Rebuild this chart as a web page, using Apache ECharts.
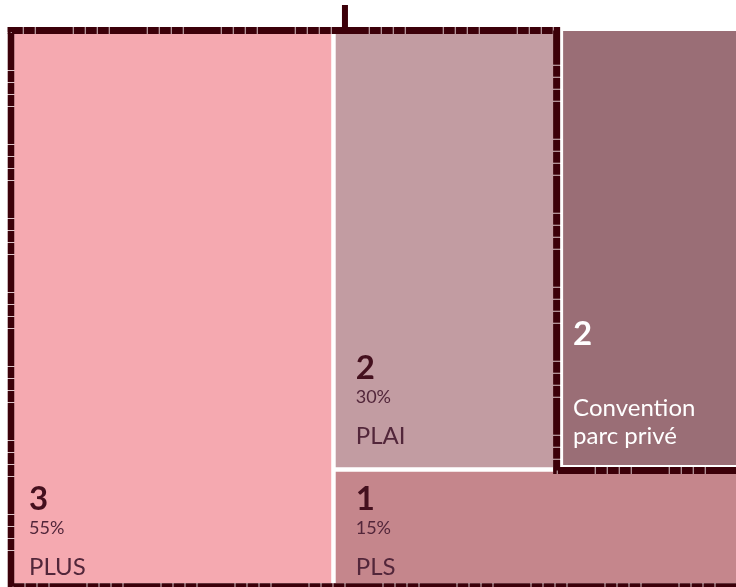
<!DOCTYPE html>
<html><head><meta charset="utf-8">
<script src="https://cdn.jsdelivr.net/npm/echarts@6/dist/echarts.min.js"></script>
<style>html,body{margin:0;padding:0;background:#fff}#c{width:736px;height:587px}</style>
</head><body><div id="c"></div>
<script>
// ---- data ----
const categories = ['PLUS', 'PLAI', 'PLS'];
const counts = [3, 2, 1];
const shares = [55, 30, 15];
const privateLines = ['Convention', 'parc privé'];
const privateCount = 2;

// ---- layout / style constants ----
const socialArea = 1.058;      // area of the social block (height = 1)
const lowBand = 0.2067;        // height of the bottom band (PLS)
const cellColors = ['#f5a9b0', '#c29ca2', '#c5868c'];
const privateColor = '#9a6e76';
const borderColor = '#3c0009';
const tickColor = '#d8c2c6';
const darkText = '#44101e';
const labelText = '#52263a';
const FONT = 'Lato, "Open Sans", sans-serif';
const padX = [15, 20, 20, 11];
const padB = [8, 23, 8, 22];

function layout() {
  const wPlus = shares[0] * socialArea / 100;
  const wPlai = shares[1] * socialArea / 100 / (1 - lowBand);
  const wPls = shares[2] * socialArea / 100 / lowBand;
  const total = counts.reduce((a, b) => a + b, 0);
  const wPriv = socialArea * privateCount / total / (1 - lowBand);
  return [
    {x0: 0, x1: wPlus, y0: 0, y1: 1},
    {x0: wPlus, x1: wPlus + wPlai, y0: lowBand, y1: 1},
    {x0: wPlus, x1: wPlus + wPls, y0: 0, y1: lowBand},
    {x0: wPlus + wPlai, x1: wPlus + wPlai + wPriv, y0: lowBand, y1: 1}
  ];
}
const rects = layout();
const G = 2.25;

function textEl(str, x, baseline, size, weight, color) {
  return {
    type: 'text',
    style: {
      text: String(str), x: x, y: baseline + 0.17 * size,
      fill: color, fontSize: size, fontWeight: weight, fontFamily: FONT,
      align: 'left', verticalAlign: 'bottom'
    },
    z2: 10
  };
}

function renderCell(params, api) {
  const i = api.value(0);
  const r = rects[i];
  const tl = api.coord([r.x0, r.y1]);
  const br = api.coord([r.x1, r.y0]);
  let x = tl[0], y = tl[1], x2 = br[0], y2 = br[1];
  const children = [];
  if (i < 3) {
    if (i === 0) x2 -= G;
    if (i === 1) { x += G; y2 -= G; }
    if (i === 2) { x += G; y += G; }
    children.push({type: 'rect', shape: {x: x, y: y, width: x2 - x, height: y2 - y},
      style: {fill: cellColors[i]}});
    const lb = y2 - padB[i];
    const tx = x + padX[i];
    children.push(textEl(counts[i], tx, lb - 65, 33, 'bold', darkText));
    children.push(textEl(shares[i] + '%', tx, lb - 41, 18, 'normal', labelText));
    children.push(textEl(categories[i], tx, lb, 24, 'normal', labelText));
  } else {
    x = x + 9; y = y - 4; y2 = y2 - 3.5;
    children.push({type: 'rect', shape: {x: x, y: y, width: x2 - x, height: y2 - y},
      style: {fill: privateColor, stroke: '#ffffff', lineWidth: 2}});
    const lb = y2 - padB[i];
    const tx = x + padX[i];
    children.push(textEl(privateCount, tx, lb - 99, 33, 'bold', '#ffffff'));
    children.push(textEl(privateLines[0], tx, lb - 28, 24, 'normal', '#ffffff'));
    children.push(textEl(privateLines[1], tx, lb, 24, 'normal', '#ffffff'));
  }
  return {type: 'group', children: children};
}

function renderOutline(params, api) {
  const plus = rects[0], plai = rects[1];
  const tl = api.coord([plus.x0, plus.y1]);
  const bl = api.coord([plus.x0, plus.y0]);
  const plaiBR = api.coord([plai.x1, plai.y0]);
  const split = api.coord([plus.x1, plus.y1]);
  const L = tl[0] - 3, T = tl[1] - 3.5, R = plaiBR[0] + 3.5, S = plaiBR[1] + 1, B = bl[1] + 3.5;
  const far = 800;
  const ptsA = [[L - 3.25, T], [R, T], [R, S], [far, S]];
  const ptsB = [[L, T - 3.5], [L, B], [far, B]];
  const base = {fill: null, lineJoin: 'miter', lineCap: 'butt'};
  const dash = [11, 1, 11, 1, 11, 1, 37, 1];
  return {type: 'group', children: [
    {type: 'polyline', shape: {points: ptsA}, style: Object.assign({}, base, {stroke: tickColor, lineWidth: 7})},
    {type: 'polyline', shape: {points: ptsB}, style: Object.assign({}, base, {stroke: tickColor, lineWidth: 6.5})},
    {type: 'polyline', shape: {points: ptsA}, style: Object.assign({}, base,
      {stroke: borderColor, lineWidth: 7, lineDash: dash, lineDashOffset: 8})},
    {type: 'polyline', shape: {points: ptsB}, style: Object.assign({}, base,
      {stroke: borderColor, lineWidth: 6.5, lineDash: dash, lineDashOffset: 30})},
    {type: 'line', shape: {x1: split[0] + 11.5, y1: 5, x2: split[0] + 11.5, y2: T},
      style: {stroke: borderColor, lineWidth: 6}}
  ]};
}

const chart = echarts.init(document.getElementById('c'));
chart.setOption({
  backgroundColor: '#ffffff',
  animation: false,
  grid: {left: 14, top: 34, width: 722, height: 549},
  xAxis: {type: 'value', min: 0, max: 722 / 549, show: false},
  yAxis: {type: 'value', min: 0, max: 1, show: false},
  series: [
    {type: 'custom', renderItem: renderCell, clip: false,
      data: [[0], [1], [2], [3]], encode: {x: [], y: []}},
    {type: 'custom', renderItem: renderOutline, clip: false, z: 5,
      data: [[0]], encode: {x: [], y: []}}
  ]
});
</script>
</body></html>
